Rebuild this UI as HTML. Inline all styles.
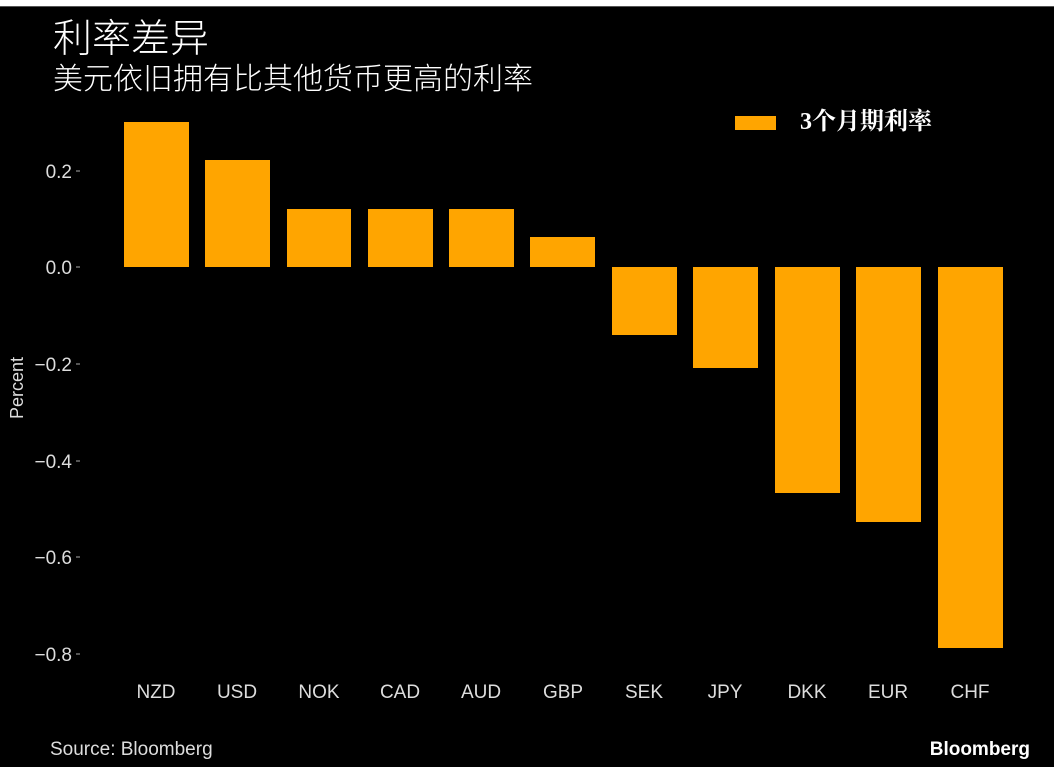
<!DOCTYPE html><html><head><meta charset="utf-8"><style>
body{margin:0;background:#000;width:1054px;height:767px;overflow:hidden;position:relative;font-family:"Liberation Sans","Noto Sans CJK SC",sans-serif}
.t{position:absolute;color:#fff;white-space:nowrap}
</style></head><body>
<div style="position:absolute;left:0;top:0;width:1054px;height:6px;background:#fff"></div>
<div style="position:absolute;left:0;top:6px;width:1054px;height:1px;background:#555"></div>
<div class="t" style="left:53px;top:12px;font-size:39px;font-family:'Noto Sans CJK SC',sans-serif;font-weight:300;line-height:48px">利率差异</div>
<div class="t" style="left:53px;top:57px;font-size:30px;font-family:'Noto Sans CJK SC',sans-serif;font-weight:300;line-height:38px">美元依旧拥有比其他货币更高的利率</div>
<div style="position:absolute;left:735px;top:116px;width:41px;height:14px;background:#FFA500"></div>
<div class="t" style="left:800px;top:108px;font-size:24px;font-weight:bold;font-family:'Liberation Serif','Noto Serif CJK SC',serif;line-height:28px">3个月期利率</div>
<svg width="1054" height="767" style="position:absolute;left:0;top:0">
<g fill="#ddd" font-family="Liberation Sans" font-size="19" text-anchor="end">
<text x="72" y="178">0.2</text><text x="72" y="274">0.0</text><text x="72" y="371">−0.2</text><text x="72" y="468">−0.4</text><text x="72" y="564">−0.6</text><text x="72" y="661">−0.8</text>
</g>
<g stroke="#aaa" stroke-width="1"><line x1="76" x2="80" y1="171" y2="171"/><line x1="76" x2="80" y1="267" y2="267"/><line x1="76" x2="80" y1="364" y2="364"/><line x1="76" x2="80" y1="461" y2="461"/><line x1="76" x2="80" y1="557" y2="557"/><line x1="76" x2="80" y1="654" y2="654"/></g>
<text x="23" y="388" fill="#ddd" font-family="Liberation Sans" font-size="18" text-anchor="middle" transform="rotate(-90 23 388)">Percent</text>
<g fill="#FFA500">
<rect x="124" y="122" width="65" height="145"/>
<rect x="205" y="160" width="65" height="107"/>
<rect x="287" y="209" width="64" height="58"/>
<rect x="368" y="209" width="65" height="58"/>
<rect x="449" y="209" width="65" height="58"/>
<rect x="530" y="237" width="65" height="30"/>
<rect x="612" y="267" width="65" height="68"/>
<rect x="693" y="267" width="65" height="101"/>
<rect x="775" y="267" width="65" height="226"/>
<rect x="856" y="267" width="65" height="255"/>
<rect x="938" y="267" width="65" height="381"/>
</g>
<g fill="#ddd" font-family="Liberation Sans" font-size="19" text-anchor="middle">
<text x="156" y="698">NZD</text><text x="237" y="698">USD</text><text x="319" y="698">NOK</text><text x="400" y="698">CAD</text><text x="481" y="698">AUD</text><text x="563" y="698">GBP</text><text x="644" y="698">SEK</text><text x="725" y="698">JPY</text><text x="807" y="698">DKK</text><text x="888" y="698">EUR</text><text x="970" y="698">CHF</text>
</g>
<text x="50" y="755" fill="#ddd" font-family="Liberation Sans" font-size="19">Source: Bloomberg</text>
<text x="1030" y="755" fill="#fff" font-family="Liberation Sans" font-size="19" font-weight="bold" text-anchor="end">Bloomberg</text>
</svg>
</body></html>
